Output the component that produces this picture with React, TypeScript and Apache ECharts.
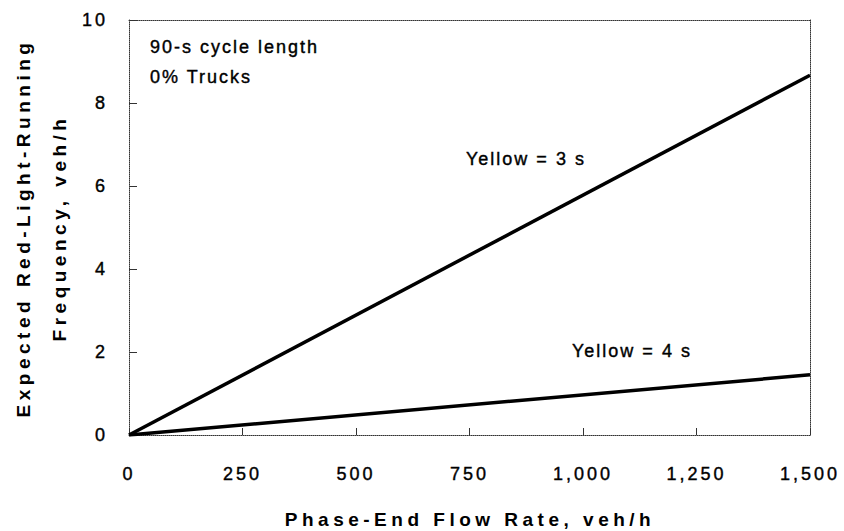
import React, { useEffect, useRef } from "react";
import * as echarts from "echarts";

// ---- data ----
const flowRates = [0, 1500]; // veh/h
const yellow3s = [0, 8.67]; // veh/h, Yellow = 3 s
const yellow4s = [0, 1.45]; // veh/h, Yellow = 4 s
const xMin = 0;
const xMax = 1500;
const xStep = 250;
const yMin = 0;
const yMax = 10;
const yStep = 2;

const xTitle = "Phase-End Flow Rate, veh/h";
const yTitle1 = "Expected Red-Light-Running";
const yTitle2 = "Frequency, veh/h";
const note1 = "90-s cycle length";
const note2 = "0% Trucks";
const label3 = "Yellow = 3 s";
const label4 = "Yellow = 4 s";

const FONT = '"Liberation Sans", Arial, Helvetica, sans-serif';

const TITLE_TEXTS = [xTitle, yTitle1, yTitle2];
const NOTE_TEXTS = [note1, note2, label3, label4];

function applySpacing(dom: HTMLElement) {
  dom.querySelectorAll("text").forEach((el) => {
    const t = (el.textContent || "").trim();
    let s = 3;
    if (TITLE_TEXTS.includes(t)) s = 4.5;
    else if (NOTE_TEXTS.includes(t)) s = 2;
    el.setAttribute("letter-spacing", s + "px");
  });
}

export default function App() {
  const ref = useRef<HTMLDivElement>(null);

  useEffect(() => {
    if (!ref.current) return;
    const chart = echarts.init(ref.current, undefined, { renderer: "svg" });
    const borderLine = {
      show: true,
      onZero: false,
      lineStyle: { color: "#333", width: 1, type: "dotted" as const },
    };
    const noteStyle = (text: string) => ({
      text,
      fill: "#000",
      font: `18px ${FONT}`,
      align: "left",
      verticalAlign: "middle",
      stroke: "#000",
      lineWidth: 0.4,
    });

    chart.setOption({
      animation: false,
      backgroundColor: "#fff",
      grid: { left: 129, right: 34, top: 20, bottom: 96, containLabel: false },
      xAxis: [
        {
          type: "value",
          min: xMin,
          max: xMax,
          interval: xStep,
          axisLine: borderLine,
          axisTick: { show: true, inside: true, length: 7, lineStyle: { color: "#333", width: 1 } },
          splitLine: { show: false },
          axisLabel: {
            margin: 30,
            color: "#000",
            fontSize: 18,
            fontFamily: FONT,
            textBorderColor: "#000",
            textBorderWidth: 0.4,
            formatter: (v: number) => v.toLocaleString("en-US"),
          },
        },
        {
          type: "value",
          position: "top",
          min: 0,
          max: 1,
          axisLine: borderLine,
          axisTick: { show: false },
          axisLabel: { show: false },
          splitLine: { show: false },
        },
      ],
      yAxis: [
        {
          type: "value",
          min: yMin,
          max: yMax,
          interval: yStep,
          axisLine: borderLine,
          axisTick: { show: true, inside: true, length: 8, lineStyle: { color: "#333", width: 1 } },
          splitLine: { show: false },
          axisLabel: {
            margin: 21,
            color: "#000",
            fontSize: 18,
            fontFamily: FONT,
            textBorderColor: "#000",
            textBorderWidth: 0.4,
          },
        },
        {
          type: "value",
          position: "right",
          min: 0,
          max: 1,
          axisLine: borderLine,
          axisTick: { show: false },
          axisLabel: { show: false },
          splitLine: { show: false },
        },
      ],
      series: [
        {
          name: label3,
          type: "line",
          xAxisIndex: 0,
          yAxisIndex: 0,
          data: flowRates.map((x, i) => [x, yellow3s[i]]),
          showSymbol: false,
          lineStyle: { color: "#000", width: 3.5 },
        },
        {
          name: label4,
          type: "line",
          xAxisIndex: 0,
          yAxisIndex: 0,
          data: flowRates.map((x, i) => [x, yellow4s[i]]),
          showSymbol: false,
          lineStyle: { color: "#000", width: 3.5 },
        },
      ],
      graphic: [
        { type: "text", x: 150, y: 46.5, style: noteStyle(note1) },
        { type: "text", x: 150, y: 76.5, style: noteStyle(note2) },
        { type: "text", x: 466, y: 158.5, style: noteStyle(label3) },
        { type: "text", x: 572, y: 351, style: noteStyle(label4) },
        {
          type: "text",
          x: 470,
          y: 519,
          style: { text: xTitle, fill: "#000", font: `bold 19px ${FONT}`, align: "center", verticalAlign: "middle" },
        },
        {
          type: "text",
          x: 23,
          y: 228,
          rotation: Math.PI / 2,
          style: { text: yTitle1, fill: "#000", font: `bold 19px ${FONT}`, align: "center", verticalAlign: "middle" },
        },
        {
          type: "text",
          x: 59,
          y: 228,
          rotation: Math.PI / 2,
          style: { text: yTitle2, fill: "#000", font: `bold 19px ${FONT}`, align: "center", verticalAlign: "middle" },
        },
      ],
    });

    const dom = ref.current;
    const apply = () => applySpacing(dom);
    chart.on("rendered", apply);
    chart.on("finished", apply);
    const raf = requestAnimationFrame(() => requestAnimationFrame(apply));
    const to = setTimeout(apply, 50);

    return () => {
      cancelAnimationFrame(raf);
      clearTimeout(to);
      chart.dispose();
    };
  }, []);

  return (
    <div
      ref={ref}
      style={{ position: "absolute", left: 0, top: 0, width: 844, height: 531, background: "#fff" }}
    />
  );
}
